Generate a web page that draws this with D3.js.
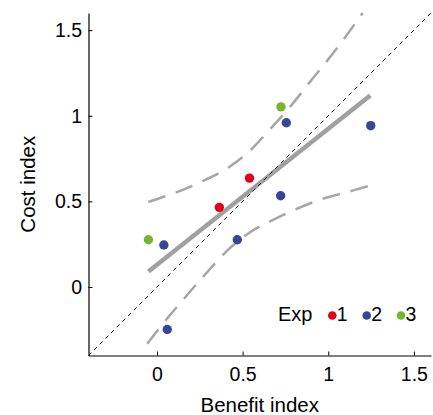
<!DOCTYPE html>
<html>
<head>
<meta charset="utf-8">
<script src="https://cdn.jsdelivr.net/npm/d3@7"></script>
<style>
  body { margin: 0; background: white; }
  text { font-family: "Liberation Sans", Arial, sans-serif; fill: black; }
</style>
</head>
<body>
<div id="chart"></div>
<script>
// data
const benefit = [-0.05, 0.04, 0.06, 0.364, 0.54, 0.724, 0.755, 1.248, 0.722, 0.469];
const cost    = [0.276, 0.245, -0.248, 0.465, 0.636, 1.052, 0.959, 0.942, 0.533, 0.276];
const exp     = [3, 2, 2, 1, 1, 3, 2, 2, 2, 2];

// fitted line (end points)
const fitX = [-0.05, 1.245];
const fitY = [0.09, 1.118];

// confidence band, upper and lower
const upperX = [-0.051, 0.251, 0.426, 0.543, 0.640, 0.776, 0.903, 1.029, 1.201];
const upperY = [0.496, 0.611, 0.704, 0.796, 0.899, 1.051, 1.210, 1.366, 1.600];
const lowerX = [-0.057, 0.022, 0.144, 0.280, 0.416, 0.582, 0.660, 0.952, 1.146, 1.240];
const lowerY = [-0.331, -0.230, -0.084, 0.072, 0.218, 0.344, 0.383, 0.510, 0.564, 0.591];

const ticks = [0, 0.5, 1, 1.5];
const expLevels = [1, 2, 3];
const expColors = ["#e3001b", "#36479a", "#74b72e"];

let width = 433;
let height = 415;
let margin = {
    top: 13,
    left: 88.5,
    right: 2,
    bottom: 59.5
};

let svg = d3.select('#chart')
            .append('svg')
            .attr('width', width)
            .attr('height', height)

let xScale = d3.scaleLinear()
                .domain([-0.4, 1.6])
                .range([margin.left, width - margin.right])
let yScale = d3.scaleLinear()
                .domain([-0.4, 1.6])
                .range([height - margin.bottom, margin.top])

const color = d3.scaleOrdinal()
                .domain(expLevels)
                .range(expColors);

// axes, ticks pointing inwards
let xAxis = svg.append('g')
              .attr('transform', `translate(0, ${height - margin.bottom})`)
              .call(d3.axisBottom(xScale).tickValues(ticks).tickSizeInner(-4).tickSizeOuter(0).tickPadding(12).tickFormat(d3.format('')))
let yAxis = svg.append('g')
              .attr('transform', `translate(${margin.left}, 0)`)
              .call(d3.axisLeft(yScale).tickValues(ticks).tickSizeInner(-4).tickSizeOuter(0).tickPadding(6.5).tickFormat(d3.format('')))

svg.selectAll('.domain').attr('stroke', 'black').attr('stroke-width', 1.2);
svg.selectAll('.tick line').attr('stroke', 'black');
svg.selectAll('.tick text').style('font-size', '19.5px').style('font-family', '"Liberation Sans", Arial, sans-serif');

// axis labels
svg.append('text')
    .attr('x', xScale(0.6))
    .attr('y', 412)
    .attr('text-anchor', 'middle')
    .style('font-size', '20.5px')
    .text('Benefit index');
svg.append('text')
    .attr('transform', `translate(34.5, ${yScale(0.6)}) rotate(-90)`)
    .attr('text-anchor', 'middle')
    .style('font-size', '20.5px')
    .text('Cost index');

// fitted line
let fit = d3.line()
    .x(d => xScale(d[0]))
    .y(d => yScale(d[1]));
svg.append('path')
    .datum(d3.zip(fitX, fitY))
    .attr('fill', 'none')
    .attr('stroke', '#a0a0a0')
    .attr('stroke-width', 4.5)
    .attr('d', fit);

// confidence band
let band = d3.line()
    .x(d => xScale(d[0]))
    .y(d => yScale(d[1]))
    .curve(d3.curveMonotoneX);
[[upperX, upperY], [lowerX, lowerY]].forEach(b => {
    svg.append('path')
        .datum(d3.zip(b[0], b[1]))
        .attr('fill', 'none')
        .attr('stroke', '#a6a6a6')
        .attr('stroke-width', 2.5)
        .attr('stroke-dasharray', '18,11')
        .attr('d', band);
});

// identity line
svg.append('line')
    .attr('x1', xScale(-0.4))
    .attr('y1', yScale(-0.4))
    .attr('x2', xScale(1.6))
    .attr('y2', yScale(1.6))
    .attr('stroke', 'black')
    .attr('stroke-width', 1)
    .attr('stroke-dasharray', '4,4');

// points
svg.selectAll('circle.pt')
    .data(d3.range(benefit.length))
    .enter()
    .append('circle')
    .attr('class', 'pt')
    .attr('cx', i => xScale(benefit[i]))
    .attr('cy', i => yScale(cost[i]))
    .attr('r', 4.7)
    .attr('fill', i => color(exp[i]));

// legend
const legend = svg.append('g');
legend.append('text')
    .attr('x', 278)
    .attr('y', 321)
    .style('font-size', '20px')
    .text('Exp');
const legendX = [332.3, 366.7, 401];
expLevels.forEach((e, i) => {
    legend.append('circle')
        .attr('cx', legendX[i])
        .attr('cy', 315.5)
        .attr('r', 4.3)
        .attr('fill', color(e));
    legend.append('text')
        .attr('x', legendX[i] + 4.5)
        .attr('y', 321)
        .style('font-size', '19.5px')
        .text(e);
});
</script>
</body>
</html>
